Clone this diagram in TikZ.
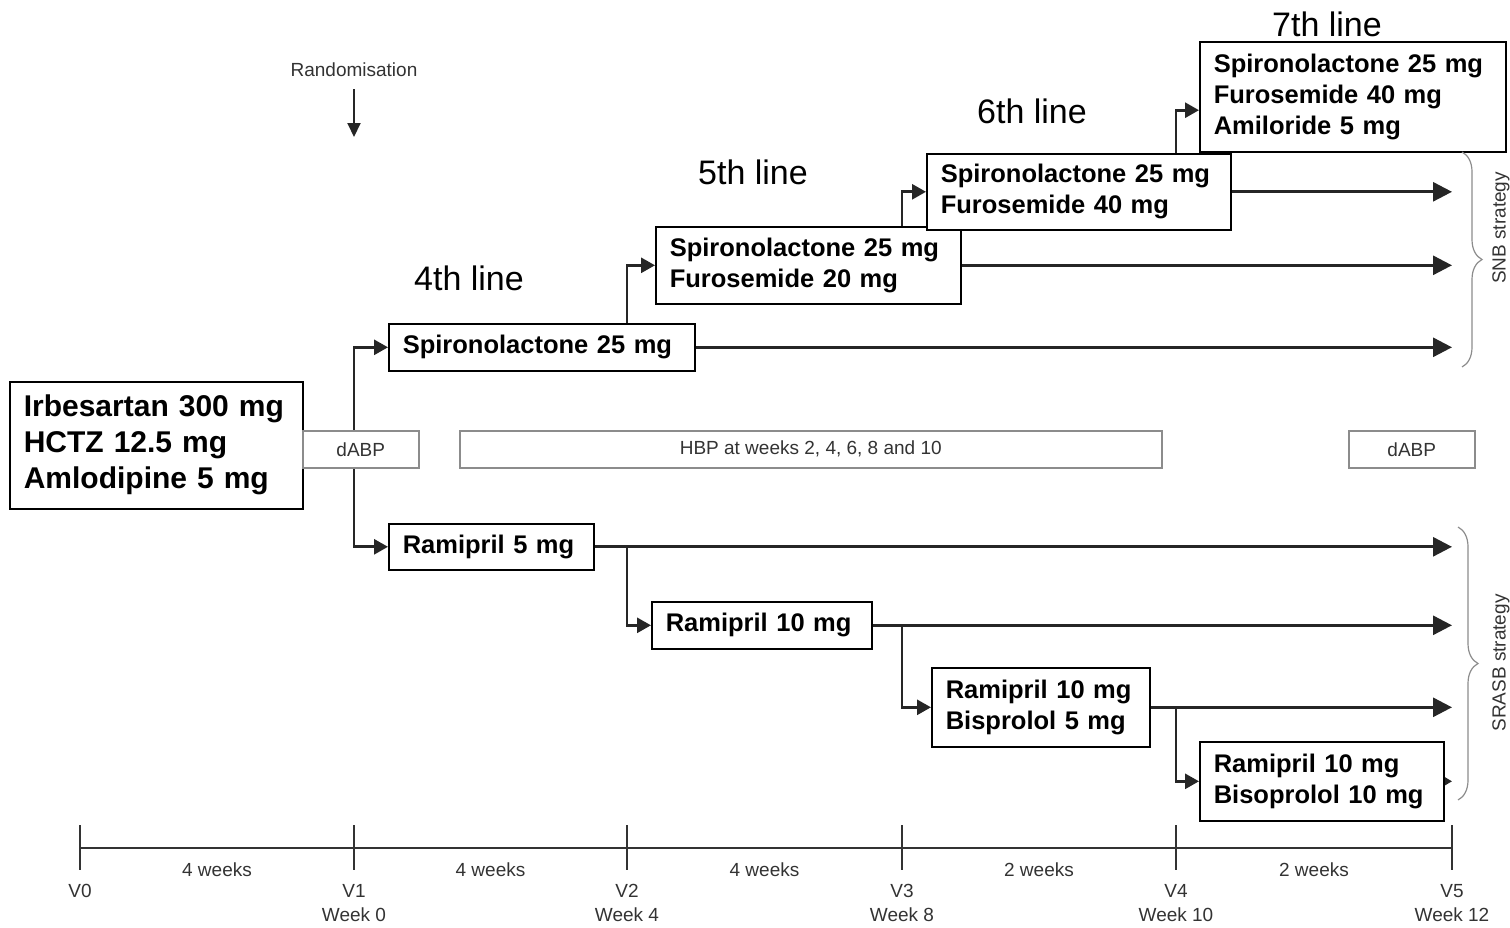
\documentclass[tikz,border=0pt]{standalone}
\usepackage{fontspec}
\setmainfont{Liberation Sans}
\usepackage{xcolor}
\usetikzlibrary{arrows.meta,positioning,calc,backgrounds,decorations.pathreplacing}

\definecolor{labelgray}{HTML}{333333}
\definecolor{boxgray}{HTML}{8C8C8C}

\begin{document}
\begin{tikzpicture}[x=1pt,y=-1pt,
  drug/.style={draw=black, line width=1.6pt, fill=white, anchor=north west, align=left,
    inner xsep=14pt, inner ysep=0pt, font=\fontsize{25.5}{31}\selectfont\bfseries},
  period/.style={draw=boxgray, line width=1.5pt, fill=white, anchor=north west,
    inner sep=0pt, text=labelgray, font=\fontsize{19}{23}\selectfont},
  lineno/.style={font=\fontsize{34}{40}\selectfont},
  small/.style={text=labelgray, inner sep=2pt, font=\fontsize{19}{24}\selectfont},
  arr/.style={draw=black!85, line width=2.8pt, -{Triangle[length=19pt,width=19pt]}},
  turn/.style={draw=black!85, line width=2.8pt, -{Triangle[length=14pt,width=15pt]}},
  strat/.style={draw=boxgray, line width=1.2pt, decorate, decoration={brace,amplitude=20pt}}
]
\useasboundingbox (0,0) rectangle (1510,927);

% randomisation
\node[small] (rand) at (354,70) {Randomisation};
\coordinate (randtip) at (354,137);
\draw[draw=black!85, line width=2pt, -{Triangle[length=14pt,width=13pt]}, shorten <=10pt] (rand.south) -- (randtip);

% starting treatment
\node[drug, font=\fontsize{30}{36}\selectfont\bfseries, text width=265pt, minimum height=127pt] (base) at (9,381)
  {Irbesartan 300 mg\\HCTZ 12.5 mg\\Amlodipine 5 mg};

% SNB arm
\node[lineno] (l4) at (469,278) {4th line};
\node[lineno] (l5) at (753,172) {5th line};
\node[lineno] (l6) at (1032,111) {6th line};
\node[lineno] (l7) at (1327,24) {7th line};
\node[drug, text width=278pt, minimum height=47pt] (spiro4) at (388,323) {Spironolactone 25 mg};
\node[drug, text width=277pt, minimum height=77pt] (spiro5) at (655,226) {Spironolactone 25 mg\\Furosemide 20 mg};
\node[drug, text width=276pt, minimum height=76pt] (spiro6) at (926,153) {Spironolactone 25 mg\\Furosemide 40 mg};
\node[drug, text width=278pt, minimum height=110pt] (spiro7) at (1199,41) {Spironolactone 25 mg\\Furosemide 40 mg\\Amiloride 5 mg};

% SRASB arm
\node[drug, text width=177pt, minimum height=46pt] (rami5) at (388,523) {Ramipril 5 mg};
\node[drug, text width=192pt, minimum height=47pt] (rami10) at (651,601) {Ramipril 10 mg};
\node[drug, text width=190pt, minimum height=79pt] (ramibis5) at (931,667) {Ramipril 10 mg\\Bisprolol 5 mg};
\node[drug, text width=216pt, minimum height=79pt] (ramibis10) at (1199,741) {Ramipril 10 mg\\Bisoprolol 10 mg};

% blood pressure measurements
\node[period, minimum width=116pt, minimum height=37pt] (dabp1) at (302,430) {dABP};
\node[period, minimum width=702pt, minimum height=37pt] (hbp) at (459,430) {HBP at weeks 2, 4, 6, 8 and 10};
\node[period, minimum width=126pt, minimum height=37pt] (dabp2) at (1348,430) {dABP};

% timeline
\foreach \x [count=\i from 0] in {80,354,627,902,1176,1452}
  \coordinate (t\i) at (\x,848);
\draw[line width=1.3pt, draw=labelgray] (t0) -- (t5);
\foreach \i/\lab in {0/V0, 1/{V1\\Week 0}, 2/{V2\\Week 4}, 3/{V3\\Week 8}, 4/{V4\\Week 10}, 5/{V5\\Week 12}}{
  \draw[line width=1.3pt, draw=labelgray] (t\i) ++(0,-23) -- ++(0,45);
  \node[small, anchor=north, align=center] (v\i) at ($(t\i)+(0,34)$) {\lab};
}
\foreach \i/\j/\w in {0/1/4, 1/2/4, 2/3/4, 3/4/2, 4/5/2}
  \node[small] (w\i) at ($(t\i)!.5!(t\j)+(0,22)$) {\w{} weeks};

% strategies
\draw[strat] (1462,152) -- (1462,367);
\node[small, rotate=90] (snb) at (1501,228) {SNB strategy};
\draw[strat] (1458,527) -- (1458,800);
\node[small, rotate=90] (srasb) at (1501,663) {SRASB strategy};

\coordinate (spiro7in) at ($(spiro7.north west)!0.62!(spiro7.south west)$);

\begin{scope}[on background layer]
\draw[turn] (dabp1.center -| t1) |- (spiro4.west);
\draw[turn] (dabp1.center -| t1) |- (rami5.west);
% SNB arm
\draw[arr] (spiro4.east) -- (spiro4.east -| t5);
\draw[turn] (spiro4.north -| t2) |- (spiro5.west);
\draw[arr] (spiro5.east) -- (spiro5.east -| t5);
\draw[turn] (spiro5.north -| t3) |- (spiro6.west);
\draw[arr] (spiro6.east) -- (spiro6.east -| t5);
\draw[turn] (spiro6.north -| t4) |- (spiro7in);
% SRASB arm
\draw[arr] (rami5.east) -- (rami5.east -| t5);
\draw[turn] (rami5.east -| t2) |- (rami10.west);
\draw[arr] (rami10.east) -- (rami10.east -| t5);
\draw[turn] (rami10.east -| t3) |- (ramibis5.west);
\draw[arr] (ramibis5.east) -- (ramibis5.east -| t5);
\draw[turn] (ramibis5.east -| t4) |- (ramibis10.west);
\draw[draw=black!85, line width=2pt, -{Triangle[length=9pt,width=10pt]}] (ramibis10.east) -- (ramibis10.east -| t5);
\end{scope}
\end{tikzpicture}
\end{document}
